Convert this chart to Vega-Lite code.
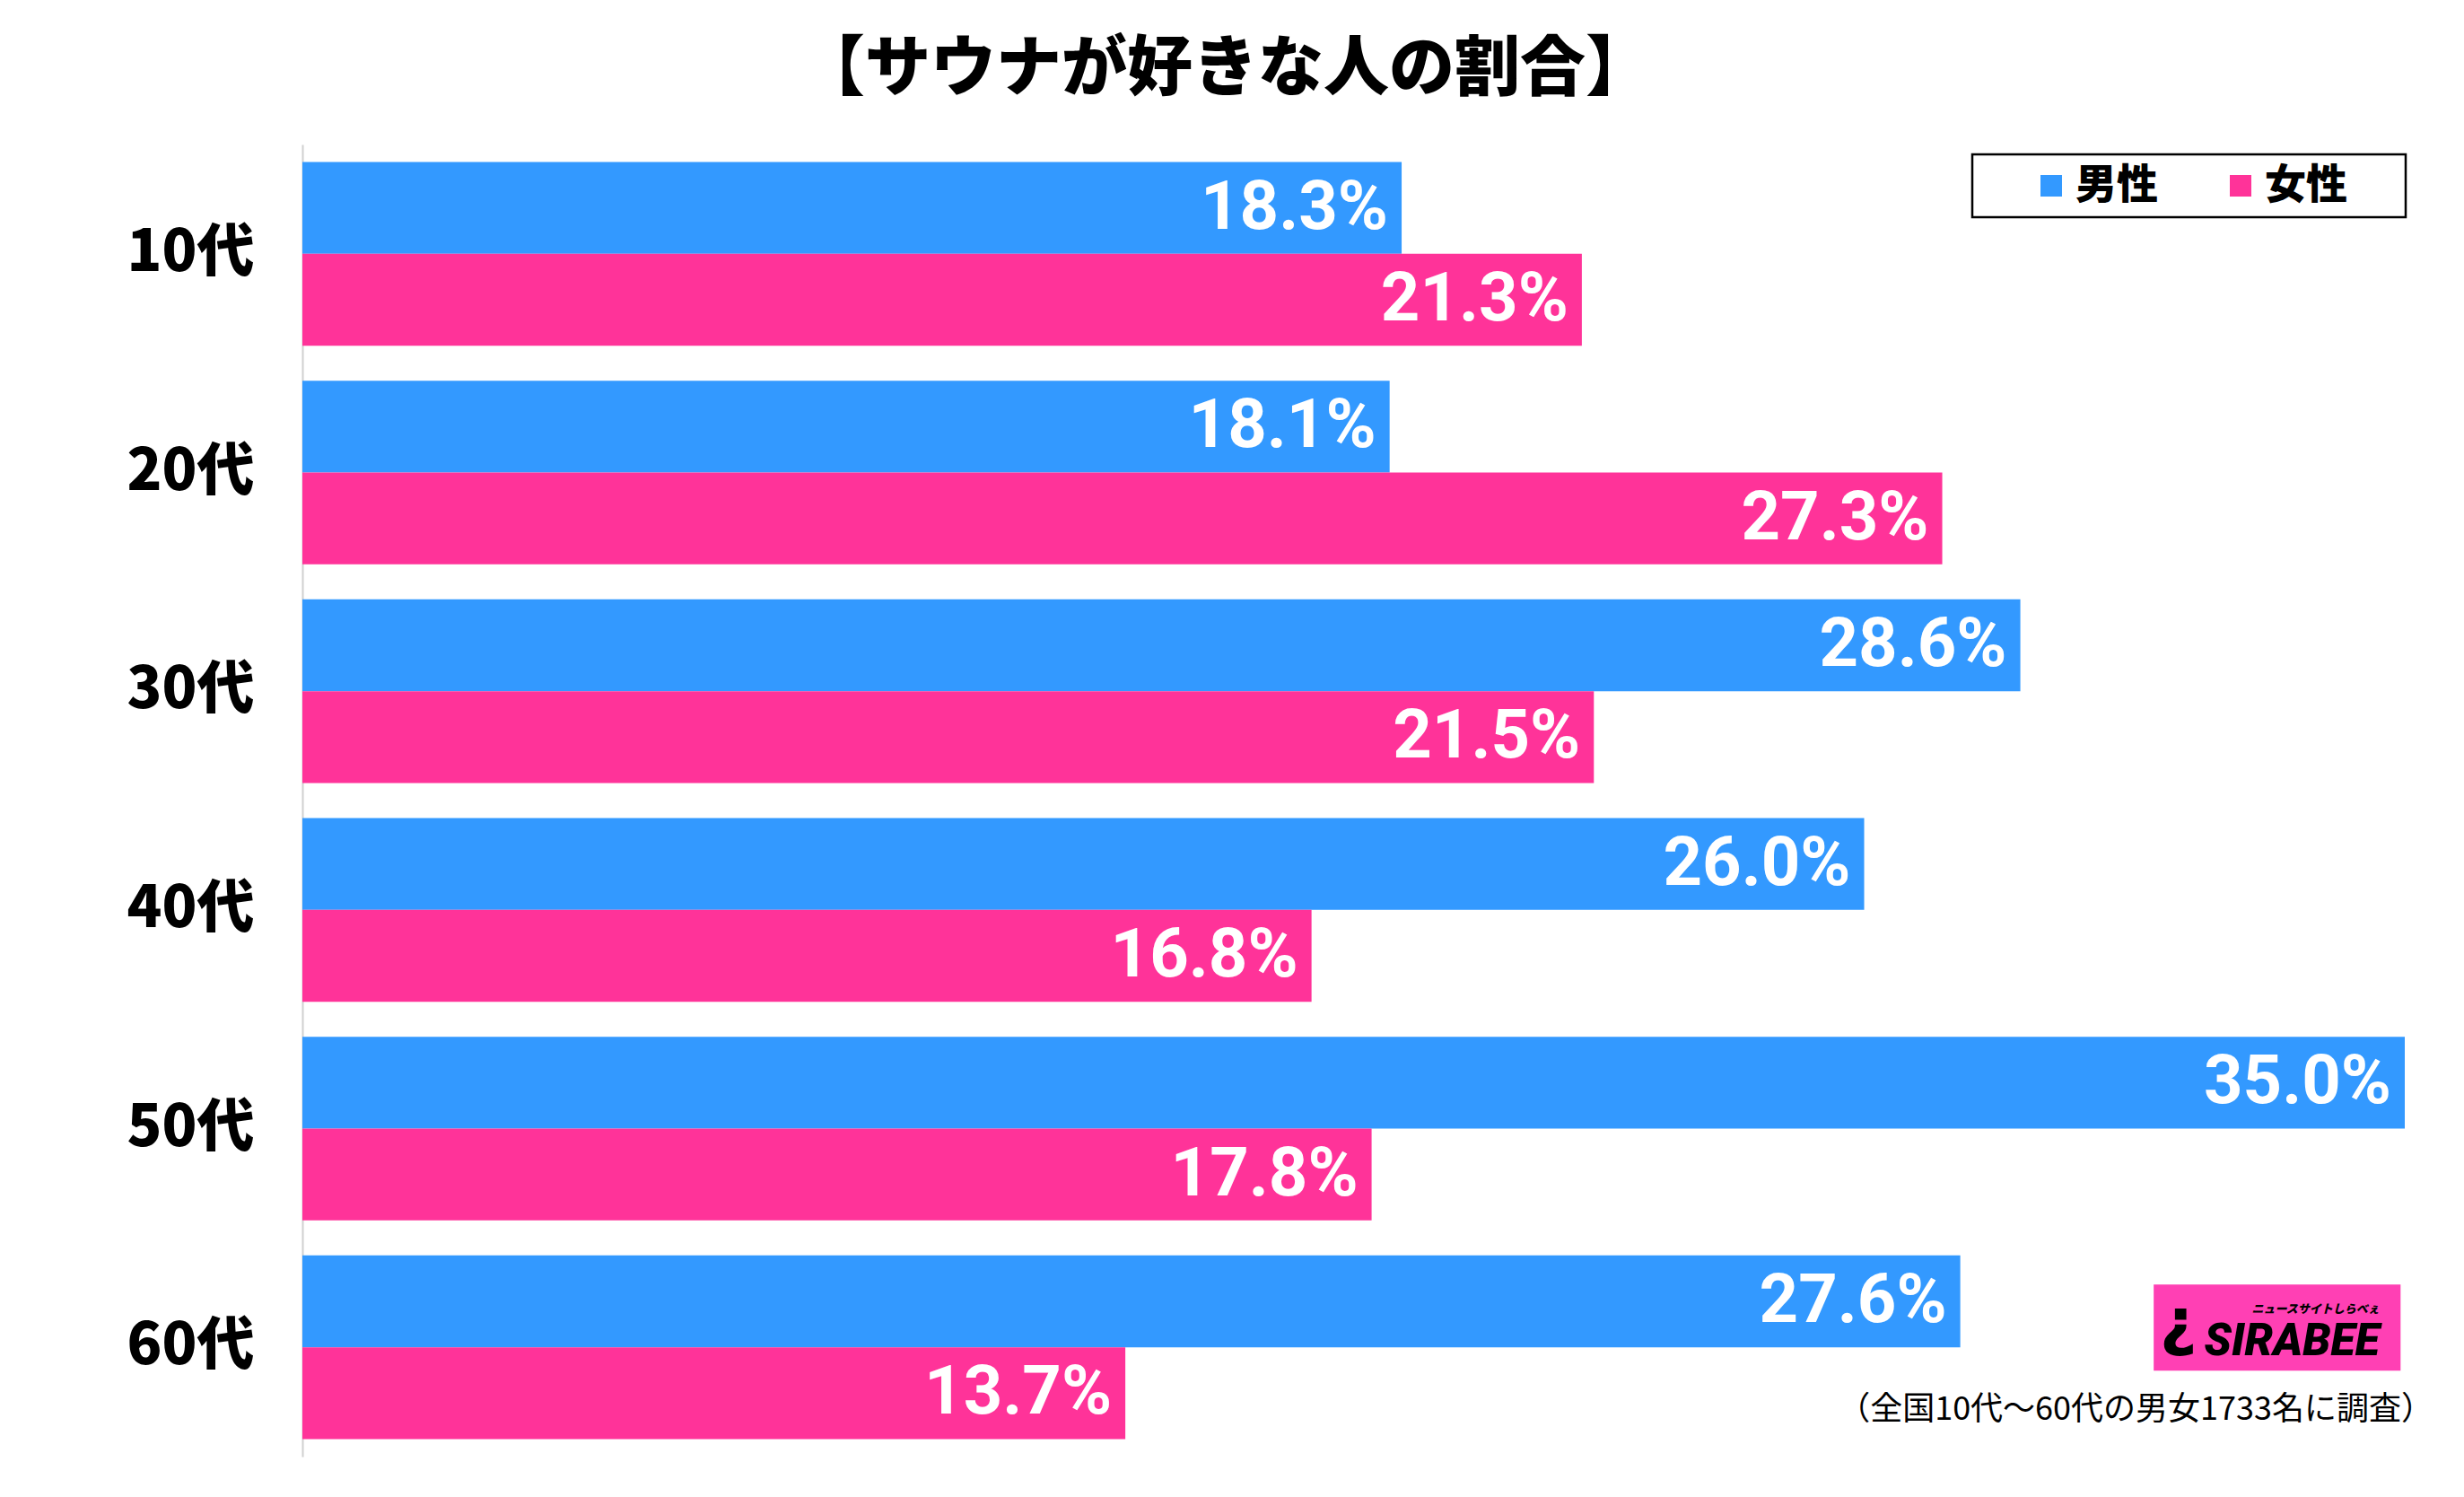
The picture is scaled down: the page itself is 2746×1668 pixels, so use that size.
{
  "$schema": "https://vega.github.io/schema/vega-lite/v6.json",
  "width": 2343,
  "height": 1462,
  "autosize": {"type": "none"},
  "padding": {"left": 337, "top": 161, "right": 66, "bottom": 45},
  "background": "white",
  "config": {"view": {"stroke": null}, "legend": {"strokeWidth": 2.5}},
  "title": {
    "text": "【サウナが好きな人の割合】",
    "font": "Noto Sans CJK JP",
    "fontSize": 73,
    "fontWeight": 900,
    "color": "black",
    "anchor": "middle",
    "dx": -143,
    "offset": 46
  },
  "data": {
    "values": [
      {"age": "10代", "sex": "男性", "value": 0.183},
      {"age": "10代", "sex": "女性", "value": 0.213},
      {"age": "20代", "sex": "男性", "value": 0.181},
      {"age": "20代", "sex": "女性", "value": 0.273},
      {"age": "30代", "sex": "男性", "value": 0.286},
      {"age": "30代", "sex": "女性", "value": 0.215},
      {"age": "40代", "sex": "男性", "value": 0.260},
      {"age": "40代", "sex": "女性", "value": 0.168},
      {"age": "50代", "sex": "男性", "value": 0.350},
      {"age": "50代", "sex": "女性", "value": 0.178},
      {"age": "60代", "sex": "男性", "value": 0.276},
      {"age": "60代", "sex": "女性", "value": 0.137}
    ]
  },
  "layer": [
    {
      "mark": {"type": "bar"},
      "encoding": {
        "y": {
          "field": "age",
          "type": "nominal",
          "scale": {"domain": ["10代", "20代", "30代", "40代", "50代", "60代"], "paddingInner": 0.16, "paddingOuter": 0.08},
          "axis": {
            "title": null,
            "labelFont": "Noto Sans CJK JP",
            "labelFontSize": 64,
            "labelFontWeight": 900,
            "labelColor": "black",
            "labelPadding": 54,
            "ticks": false,
            "grid": false,
            "domainColor": "#d0d0d0",
            "domainWidth": 2
          }
        },
        "x": {"field": "value", "type": "quantitative", "scale": {"domain": [0, 0.35]}, "axis": null},
        "yOffset": {"field": "sex", "type": "nominal", "scale": {"domain": ["男性", "女性"]}},
        "color": {
          "field": "sex",
          "type": "nominal",
          "scale": {"domain": ["男性", "女性"], "range": ["#3399ff", "#ff3399"]},
          "legend": {
            "title": "　",
            "titleOrient": "right",
            "titlePadding": 53,
            "titleFontSize": 2,
            "orient": "none",
            "legendX": 1861,
            "legendY": 11,
            "direction": "horizontal",
            "symbolType": "square",
            "symbolSize": 576,
            "symbolStrokeWidth": 0,
            "symbolOpacity": 1,
            "symbolOffset": 53,
            "labelFont": "Noto Sans CJK JP",
            "labelFontSize": 46,
            "labelFontWeight": 900,
            "labelColor": "black",
            "labelOffset": 4,
            "columnPadding": 16,
            "strokeColor": "black",
            "fillColor": "white",
            "padding": 12
          }
        }
      }
    },
    {
      "mark": {"type": "text", "align": "right", "baseline": "middle", "dx": -15, "font": "Roboto", "fontSize": 76, "fontWeight": "bold", "color": "white"},
      "encoding": {
        "y": {"field": "age", "type": "nominal"},
        "yOffset": {"field": "sex", "type": "nominal", "scale": {"domain": ["男性", "女性"]}},
        "x": {"field": "value", "type": "quantitative"},
        "text": {"field": "value", "type": "quantitative", "format": ".1%"}
      }
    },
    {
      "data": {"values": [{}]},
      "mark": {"type": "rect", "color": "#ff40b4", "height": 96, "yOffset": -22},
      "encoding": {
        "x": {"datum": 0.3082, "type": "quantitative"},
        "x2": {"datum": 0.3493},
        "y": {"datum": "60代", "type": "nominal"}
      }
    },
    {
      "data": {"values": [{}]},
      "mark": {"type": "text", "align": "right", "baseline": "middle", "font": "Roboto", "fontSize": 50, "fontWeight": 900, "fontStyle": "italic", "color": "black", "yOffset": -6},
      "encoding": {
        "x": {"datum": 0.3458, "type": "quantitative"},
        "y": {"datum": "60代", "type": "nominal"},
        "text": {"value": "SIRABEE"}
      }
    },
    {
      "data": {"values": [{}]},
      "mark": {"type": "text", "align": "right", "baseline": "middle", "font": "Noto Sans CJK JP", "fontSize": 13, "fontWeight": 900, "fontStyle": "italic", "color": "black", "yOffset": -42},
      "encoding": {
        "x": {"datum": 0.3458, "type": "quantitative"},
        "y": {"datum": "60代", "type": "nominal"},
        "text": {"value": "ニュースサイトしらべぇ"}
      }
    },
    {
      "data": {"values": [{}]},
      "mark": {"type": "text", "align": "center", "baseline": "middle", "font": "DejaVu Sans", "fontSize": 72, "fontWeight": "bold", "color": "black", "yOffset": -26},
      "encoding": {
        "x": {"datum": 0.3123, "type": "quantitative"},
        "y": {"datum": "60代", "type": "nominal"},
        "text": {"value": "¿"}
      }
    },
    {
      "data": {"values": [{}]},
      "mark": {"type": "text", "align": "right", "baseline": "middle", "font": "Noto Sans CJK JP", "fontSize": 36, "color": "black", "yOffset": 70},
      "encoding": {
        "x": {"datum": 0.35478, "type": "quantitative"},
        "y": {"datum": "60代", "type": "nominal"},
        "text": {"value": "（全国10代～60代の男女1733名に調査）"}
      }
    }
  ]
}
